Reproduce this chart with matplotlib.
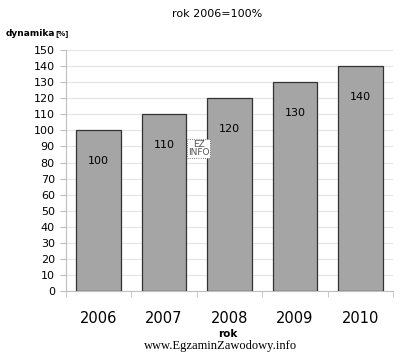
import matplotlib.pyplot as plt

years = ["2006", "2007", "2008", "2009", "2010"]
dynamics = [100, 110, 120, 130, 140]
y_ticks = list(range(0, 151, 10))

fig = plt.figure(figsize=(4.07, 3.52), dpi=100)
ax = fig.add_axes([0.162, 0.173, 0.804, 0.685])

x = range(len(years))
bars = ax.bar(x, dynamics, width=0.68, color="#a5a5a5", edgecolor="#333333", linewidth=0.9, zorder=3)
for xi, val in zip(x, dynamics):
    ax.annotate(str(val), (xi, val), xytext=(0, -22), textcoords="offset points",
                ha="center", va="center", fontsize=8, zorder=4)

ax.set_xlim(-0.5, len(years) - 0.5)
ax.set_ylim(0, 150)
ax.set_yticks(y_ticks)
ax.set_yticklabels([str(t) for t in y_ticks], fontsize=8)
ax.set_xticks(x)
ax.set_xticklabels(years, fontsize=10.5)
ax.tick_params(axis="x", length=0, pad=14)
ax.tick_params(axis="y", length=4, color="#bfbfbf", pad=4)
# category separator ticks on x axis
ax.set_xticks([i - 0.5 for i in range(len(years) + 1)], minor=True)
ax.tick_params(axis="x", which="minor", length=4, color="#bfbfbf")

ax.grid(axis="y", color="#e4e4e4", linewidth=0.8, zorder=0)
for side in ["top", "right"]:
    ax.spines[side].set_visible(False)
ax.spines["left"].set_color("#bfbfbf")
ax.spines["bottom"].set_color("#bfbfbf")

fig.text(0.533, 0.96, "rok 2006=100%", ha="center", va="center", fontsize=8)
fig.text(0.015, 0.905, "dynamika", ha="left", va="center", fontsize=6.5, fontweight="bold")
fig.text(0.137, 0.905, "[%]", ha="left", va="center", fontsize=5, fontweight="bold")
fig.text(0.56, 0.05, "rok", ha="center", va="center", fontsize=7.5, fontweight="bold")
fig.text(0.543, 0.018, "www.EgzaminZawodowy.info", ha="center", va="center",
         fontsize=9, family="Liberation Serif")
fig.text(0.488, 0.578, "EZ\nINFO", ha="center", va="center", fontsize=6.5, color="#555555",
         linespacing=0.9, bbox=dict(boxstyle="square,pad=0.1", fc="white", ec="#555555", ls=":", lw=0.6))

fig.savefig("out.png", dpi=100)
